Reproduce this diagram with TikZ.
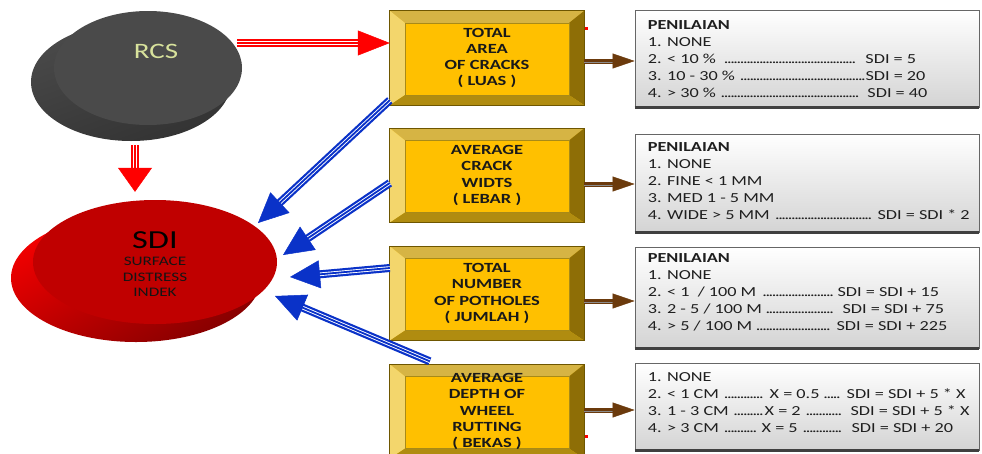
\documentclass[tikz,border=0pt]{standalone}
\usepackage{fontspec}
\setmainfont[FakeStretch=1.32]{Carlito}
\usetikzlibrary{arrows.meta,shapes.geometric,calc}
\definecolor{gold}{HTML}{FFC000}
\definecolor{boxedge}{HTML}{6E5600}
\definecolor{beveltop}{HTML}{D6B444}
\definecolor{bevelleft}{HTML}{F3D66C}
\definecolor{bevelright}{HTML}{8E6E06}
\definecolor{bevelbot}{HTML}{B08C10}
\definecolor{innerline}{HTML}{A88A18}
\definecolor{arrred}{HTML}{FF0000}
\definecolor{arrblue}{HTML}{0A32C8}
\definecolor{brn}{HTML}{6B3A0C}
\definecolor{rcstext}{HTML}{D8E29C}
\definecolor{sdired}{HTML}{C00000}
\definecolor{rcsfront}{HTML}{4A4A4A}
\tikzset{
  ybox/.style={rectangle, fill=gold, minimum width=194pt, minimum height=94pt, inner sep=0pt},
  ytext/.style={align=center, font=\fontsize{14}{16.3}\selectfont\bfseries, text=black!90, inner sep=0pt},
  pbox/.style={rectangle, draw=black!60, line width=0.8pt, top color=white, bottom color=black!17, minimum width=344pt, inner sep=0pt},
  ptext/.style={anchor=north west, align=left, font=\fontsize{13.8}{17}\selectfont, text=black!88, inner sep=0pt},
}
\newcommand{\dl}{\leaders\hbox to 3.2pt{\hss.\hss}\hfill}
\newcommand{\bevelbox}[3]{%
  \node[ybox] (#1) at (#2) {};
  \fill[beveltop] (#1.north west) -- (#1.north east) -- ($(#1.north east)+(-15,12)$) -- ($(#1.north west)+(15,12)$) -- cycle;
  \fill[bevelleft] (#1.north west) -- ($(#1.north west)+(15,12)$) -- ($(#1.south west)+(15,-10)$) -- (#1.south west) -- cycle;
  \fill[bevelright] (#1.north east) -- (#1.south east) -- ($(#1.south east)+(-15,-10)$) -- ($(#1.north east)+(-15,12)$) -- cycle;
  \fill[bevelbot] (#1.south west) -- (#1.south east) -- ($(#1.south east)+(-15,-10)$) -- ($(#1.south west)+(15,-10)$) -- cycle;
  \draw[boxedge, line width=0.7pt] (#1.north west) rectangle (#1.south east);
  \draw[innerline, line width=0.5pt] ($(#1.north west)+(15,12)$) rectangle ($(#1.south east)+(-15,-10)$);
  \node[ytext] (#1t) at (#1.center) {#3};
}
\newcommand{\stripearrow}[6]{%
  \draw[#1, line width=8pt, shorten >=#4-1pt] #2 -- #3;
  \draw[white, line width=#6, shorten >=#4-1pt] #2 -- #3;
  \draw[#1, line width=1.8pt, shorten >=#4-1pt] #2 -- #3;
  \draw[#1, line width=0.5pt, -{Triangle[length=#4,width=#5]}] #2 -- #3;
}
\newcommand{\brownarrow}[2]{%
  \draw[brn, line width=5pt, shorten >=20pt] (#1) -- (#1 -| #2.west);
  \draw[black!45, line width=1.2pt, shorten >=20pt] ($(#1)+(0,1.8)$) -- ($(#1 -| #2.west)+(0,1.8)$);
  \draw[brn, line width=0.5pt, -{Triangle[length=22pt,width=15pt]}] (#1) -- (#1 -| #2.west);
}
\begin{document}
\begin{tikzpicture}[x=1pt,y=-1pt]
\useasboundingbox (0,0) rectangle (982,453);

% RCS ellipse (3D look)
\node[ellipse, minimum width=200pt, minimum height=118pt, inner sep=0pt,
      top color=rcsfront, bottom color=black!80, shading angle=20] (rcsb) at (131,82) {};
\node[ellipse, minimum width=188pt, minimum height=114pt, inner sep=0pt,
      fill=rcsfront] (rcs) at (148,68) {};
\node[text=rcstext, font=\fontsize{22}{24}\selectfont, inner sep=0pt] (rcstxt) at (156,51) {RCS};

% SDI ellipse (3D look)
\node[ellipse, minimum width=250pt, minimum height=128pt, inner sep=0pt,
      top color=red!95!black, bottom color=sdired!70!black, shading angle=30] (sdib) at (136,278) {};
\node[ellipse, minimum width=244pt, minimum height=124pt, inner sep=0pt,
      fill=sdired] (sdi) at (155,262) {};
\node[text=black, font=\fontsize{26}{28}\selectfont, inner sep=0pt] (sditxt) at (155,240) {SDI};
\node[text=black!92, align=center, font=\fontsize{13}{15.5}\selectfont, inner sep=0pt] (sdisub) at (155,277) {SURFACE\\DISTRESS\\INDEK};

% yellow bevel boxes
\bevelbox{b1}{487,58}{TOTAL\\AREA\\OF CRACKS\\( LUAS )}
\bevelbox{b2}{487,175.5}{AVERAGE\\CRACK\\WIDTS\\( LEBAR )}
\bevelbox{b3}{487,293.5}{TOTAL\\NUMBER\\OF POTHOLES\\( JUMLAH )}
\bevelbox{b4}{487,411.5}{AVERAGE\\DEPTH OF\\WHEEL\\RUTTING\\( BEKAS )}

% small red marks
\fill[arrred] (585,26.5) rectangle (588,29.5);
\fill[arrred] (584.5,434.5) rectangle (588,438);

% grey panels
\node[pbox, minimum height=97pt] (p1) at (807,58.5) {};
\node[pbox, minimum height=98pt] (p2) at (807,183) {};
\node[pbox, minimum height=101pt] (p3) at (807,297.5) {};
\node[pbox, minimum height=87pt] (p4) at (807,406.5) {};
\foreach \p in {p1,p2,p3,p4}{
  \draw[black!75, line width=2.4pt] (\p.south west) -- (\p.south east);
}

\node[ptext] (t1) at ($(p1.north west)+(13,10.6)$) {%
\textbf{PENILAIAN}\\
1. NONE\\
\hbox to 218pt{2. < 10 \%\ \ \dl\ \ }SDI = 5\\
\hbox to 218pt{3. 10 - 30 \%\ \dl}SDI = 20\\
\hbox to 220pt{4. > 30 \%\ \dl\ \ }SDI = 40};

\node[ptext] (t2) at ($(p2.north west)+(13,8.6)$) {%
\textbf{PENILAIAN}\\
1. NONE\\
2. FINE < 1 MM\\
3. MED 1 - 5 MM\\
\hbox to 230pt{4. WIDE > 5 MM\ \dl\ }SDI = SDI * 2};

\node[ptext] (t3) at ($(p3.north west)+(13,6.6)$) {%
\textbf{PENILAIAN}\\
1. NONE\\
\hbox to 190pt{2. < 1\ \ / 100 M\ \dl\ }SDI = SDI + 15\\
\hbox to 195pt{3. 2 - 5 / 100 M\ \dl\ \ }SDI = SDI + 75\\
\hbox to 189pt{4. > 5 / 100 M\ \dl\ }SDI = SDI + 225};

\node[ptext] (t4) at ($(p4.north west)+(13,9.6)$) {%
1. NONE\\
\hbox to 122pt{2. < 1 CM\ \dl\ }\hbox to 77pt{X = 0.5\ \dl\ }SDI = SDI + 5 * X\\
\hbox to 117pt{3. 1 - 3 CM\ \dl}\hbox to 86pt{X = 2\ \dl\ \ }SDI = SDI + 5 * X\\
\hbox to 114pt{4. > 3 CM\ \dl\ }\hbox to 90pt{X = 5\ \dl\ \ }SDI = SDI + 20};

% red arrows
\stripearrow{arrred}{([xshift=-5pt,yshift=25pt]rcs.east)}{([yshift=15pt]b1.west)}{32pt}{25pt}{4.6pt}
\stripearrow{arrred}{([xshift=4pt,yshift=-4pt]rcsb.south)}{([xshift=-1pt,yshift=22pt]sdib.north)}{24pt}{34pt}{4.6pt}

% blue arrows
\stripearrow{arrblue}{($(b1.south west)+(0,-5)$)}{($(sdi.center)+(103,-39)$)}{30pt}{28pt}{3.6pt}
\stripearrow{arrblue}{($(b2.west)+(0,7.5)$)}{($(sdi.center)+(128,-7)$)}{30pt}{28pt}{3.6pt}
\stripearrow{arrblue}{($(b3.west)+(0,-25.5)$)}{($(sdi.center)+(135,15)$)}{30pt}{28pt}{3.6pt}
\stripearrow{arrblue}{($(b4.north west)+(40,-3)$)}{($(sdi.center)+(120,34)$)}{30pt}{28pt}{3.6pt}

% brown arrows
\coordinate (s1) at ($(b1.east)+(0,3)$);
\coordinate (s2) at ($(b2.east)+(0,8.5)$);
\coordinate (s3) at ($(b3.east)+(0,7.5)$);
\coordinate (s4) at ($(b4.east)+(0,-1.5)$);
\brownarrow{s1}{p1}
\brownarrow{s2}{p2}
\brownarrow{s3}{p3}
\brownarrow{s4}{p4}
\end{tikzpicture}
\end{document}
